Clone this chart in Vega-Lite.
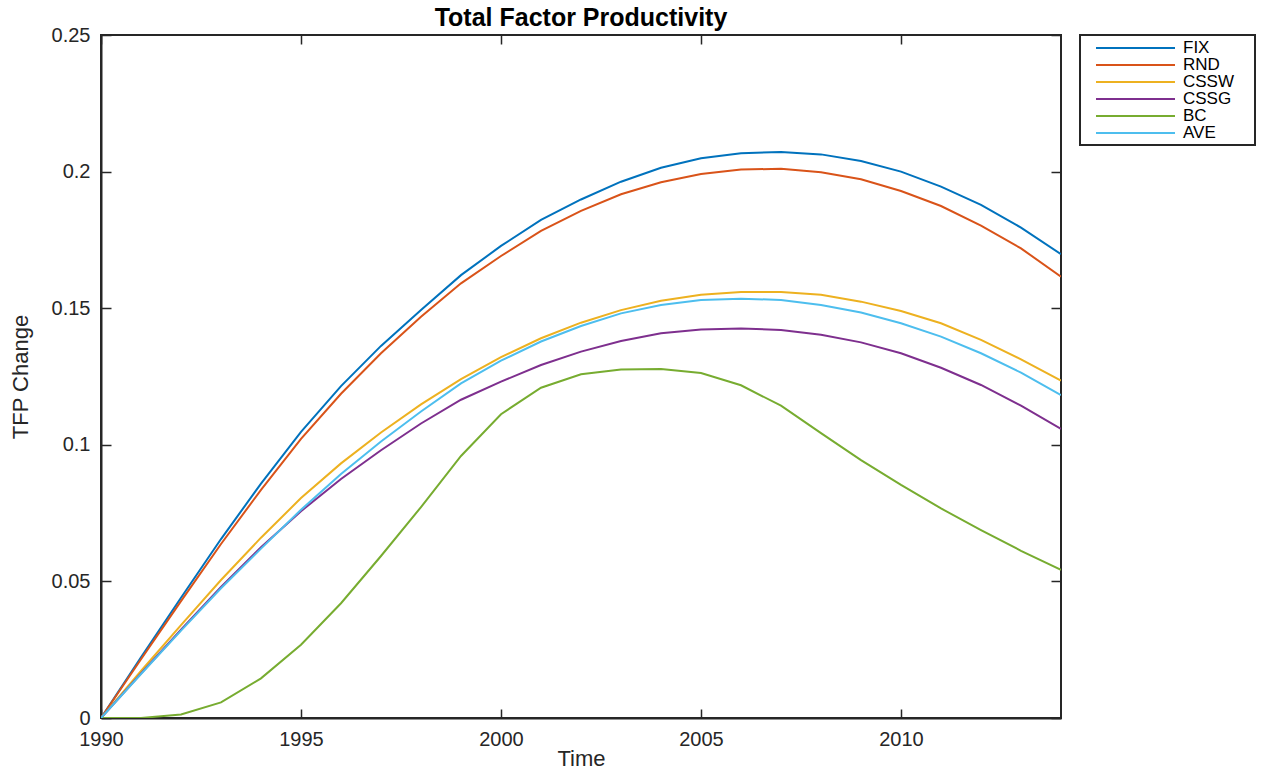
{
  "$schema": "https://vega.github.io/schema/vega-lite/v6.json",
  "width": 960,
  "height": 683,
  "autosize": {"type": "none"},
  "padding": {"left": 101, "top": 35, "right": 205, "bottom": 54},
  "background": "white",
  "title": {"text": "Total Factor Productivity", "fontSize": 25, "fontWeight": "bold", "font": "Liberation Sans", "color": "black", "offset": -6, "anchor": "middle"},
  "datasets": {
    "tfp": [
      {"year": 1990, "series": "FIX", "tfp": 0}, {"year": 1991, "series": "FIX", "tfp": 0.0222}, {"year": 1992, "series": "FIX", "tfp": 0.0440}, {"year": 1993, "series": "FIX", "tfp": 0.0655}, {"year": 1994, "series": "FIX", "tfp": 0.0858}, {"year": 1995, "series": "FIX", "tfp": 0.1047}, {"year": 1996, "series": "FIX", "tfp": 0.1215}, {"year": 1997, "series": "FIX", "tfp": 0.1362}, {"year": 1998, "series": "FIX", "tfp": 0.1493}, {"year": 1999, "series": "FIX", "tfp": 0.1621}, {"year": 2000, "series": "FIX", "tfp": 0.1728}, {"year": 2001, "series": "FIX", "tfp": 0.1823}, {"year": 2002, "series": "FIX", "tfp": 0.1898}, {"year": 2003, "series": "FIX", "tfp": 0.1963}, {"year": 2004, "series": "FIX", "tfp": 0.2014}, {"year": 2005, "series": "FIX", "tfp": 0.2049}, {"year": 2006, "series": "FIX", "tfp": 0.2067}, {"year": 2007, "series": "FIX", "tfp": 0.2072}, {"year": 2008, "series": "FIX", "tfp": 0.2063}, {"year": 2009, "series": "FIX", "tfp": 0.2039}, {"year": 2010, "series": "FIX", "tfp": 0.2000}, {"year": 2011, "series": "FIX", "tfp": 0.1945}, {"year": 2012, "series": "FIX", "tfp": 0.1878}, {"year": 2013, "series": "FIX", "tfp": 0.1795}, {"year": 2014, "series": "FIX", "tfp": 0.1698},
      {"year": 1990, "series": "RND", "tfp": 0}, {"year": 1991, "series": "RND", "tfp": 0.0215}, {"year": 1992, "series": "RND", "tfp": 0.0428}, {"year": 1993, "series": "RND", "tfp": 0.0637}, {"year": 1994, "series": "RND", "tfp": 0.0835}, {"year": 1995, "series": "RND", "tfp": 0.1022}, {"year": 1996, "series": "RND", "tfp": 0.1187}, {"year": 1997, "series": "RND", "tfp": 0.1335}, {"year": 1998, "series": "RND", "tfp": 0.1469}, {"year": 1999, "series": "RND", "tfp": 0.1591}, {"year": 2000, "series": "RND", "tfp": 0.1691}, {"year": 2001, "series": "RND", "tfp": 0.1783}, {"year": 2002, "series": "RND", "tfp": 0.1856}, {"year": 2003, "series": "RND", "tfp": 0.1917}, {"year": 2004, "series": "RND", "tfp": 0.1961}, {"year": 2005, "series": "RND", "tfp": 0.1991}, {"year": 2006, "series": "RND", "tfp": 0.2008}, {"year": 2007, "series": "RND", "tfp": 0.2010}, {"year": 2008, "series": "RND", "tfp": 0.1998}, {"year": 2009, "series": "RND", "tfp": 0.1972}, {"year": 2010, "series": "RND", "tfp": 0.1929}, {"year": 2011, "series": "RND", "tfp": 0.1874}, {"year": 2012, "series": "RND", "tfp": 0.1802}, {"year": 2013, "series": "RND", "tfp": 0.1719}, {"year": 2014, "series": "RND", "tfp": 0.1615},
      {"year": 1990, "series": "CSSW", "tfp": 0}, {"year": 1991, "series": "CSSW", "tfp": 0.0172}, {"year": 1992, "series": "CSSW", "tfp": 0.0340}, {"year": 1993, "series": "CSSW", "tfp": 0.0505}, {"year": 1994, "series": "CSSW", "tfp": 0.0660}, {"year": 1995, "series": "CSSW", "tfp": 0.0805}, {"year": 1996, "series": "CSSW", "tfp": 0.0932}, {"year": 1997, "series": "CSSW", "tfp": 0.1045}, {"year": 1998, "series": "CSSW", "tfp": 0.1148}, {"year": 1999, "series": "CSSW", "tfp": 0.1240}, {"year": 2000, "series": "CSSW", "tfp": 0.1321}, {"year": 2001, "series": "CSSW", "tfp": 0.1390}, {"year": 2002, "series": "CSSW", "tfp": 0.1447}, {"year": 2003, "series": "CSSW", "tfp": 0.1493}, {"year": 2004, "series": "CSSW", "tfp": 0.1527}, {"year": 2005, "series": "CSSW", "tfp": 0.1549}, {"year": 2006, "series": "CSSW", "tfp": 0.1559}, {"year": 2007, "series": "CSSW", "tfp": 0.1559}, {"year": 2008, "series": "CSSW", "tfp": 0.1549}, {"year": 2009, "series": "CSSW", "tfp": 0.1524}, {"year": 2010, "series": "CSSW", "tfp": 0.1490}, {"year": 2011, "series": "CSSW", "tfp": 0.1445}, {"year": 2012, "series": "CSSW", "tfp": 0.1384}, {"year": 2013, "series": "CSSW", "tfp": 0.1313}, {"year": 2014, "series": "CSSW", "tfp": 0.1235},
      {"year": 1990, "series": "CSSG", "tfp": 0}, {"year": 1991, "series": "CSSG", "tfp": 0.0163}, {"year": 1992, "series": "CSSG", "tfp": 0.0323}, {"year": 1993, "series": "CSSG", "tfp": 0.0480}, {"year": 1994, "series": "CSSG", "tfp": 0.0625}, {"year": 1995, "series": "CSSG", "tfp": 0.0757}, {"year": 1996, "series": "CSSG", "tfp": 0.0875}, {"year": 1997, "series": "CSSG", "tfp": 0.0980}, {"year": 1998, "series": "CSSG", "tfp": 0.1078}, {"year": 1999, "series": "CSSG", "tfp": 0.1165}, {"year": 2000, "series": "CSSG", "tfp": 0.1231}, {"year": 2001, "series": "CSSG", "tfp": 0.1292}, {"year": 2002, "series": "CSSG", "tfp": 0.1341}, {"year": 2003, "series": "CSSG", "tfp": 0.1380}, {"year": 2004, "series": "CSSG", "tfp": 0.1408}, {"year": 2005, "series": "CSSG", "tfp": 0.1422}, {"year": 2006, "series": "CSSG", "tfp": 0.1426}, {"year": 2007, "series": "CSSG", "tfp": 0.1420}, {"year": 2008, "series": "CSSG", "tfp": 0.1403}, {"year": 2009, "series": "CSSG", "tfp": 0.1375}, {"year": 2010, "series": "CSSG", "tfp": 0.1335}, {"year": 2011, "series": "CSSG", "tfp": 0.1282}, {"year": 2012, "series": "CSSG", "tfp": 0.1219}, {"year": 2013, "series": "CSSG", "tfp": 0.1143}, {"year": 2014, "series": "CSSG", "tfp": 0.1058},
      {"year": 1990, "series": "BC", "tfp": 0}, {"year": 1991, "series": "BC", "tfp": 0}, {"year": 1992, "series": "BC", "tfp": 0.0013}, {"year": 1993, "series": "BC", "tfp": 0.0057}, {"year": 1994, "series": "BC", "tfp": 0.0145}, {"year": 1995, "series": "BC", "tfp": 0.0268}, {"year": 1996, "series": "BC", "tfp": 0.0420}, {"year": 1997, "series": "BC", "tfp": 0.0593}, {"year": 1998, "series": "BC", "tfp": 0.0772}, {"year": 1999, "series": "BC", "tfp": 0.0959}, {"year": 2000, "series": "BC", "tfp": 0.1112}, {"year": 2001, "series": "BC", "tfp": 0.1209}, {"year": 2002, "series": "BC", "tfp": 0.1258}, {"year": 2003, "series": "BC", "tfp": 0.1276}, {"year": 2004, "series": "BC", "tfp": 0.1277}, {"year": 2005, "series": "BC", "tfp": 0.1263}, {"year": 2006, "series": "BC", "tfp": 0.1218}, {"year": 2007, "series": "BC", "tfp": 0.1143}, {"year": 2008, "series": "BC", "tfp": 0.1043}, {"year": 2009, "series": "BC", "tfp": 0.0944}, {"year": 2010, "series": "BC", "tfp": 0.0853}, {"year": 2011, "series": "BC", "tfp": 0.0767}, {"year": 2012, "series": "BC", "tfp": 0.0688}, {"year": 2013, "series": "BC", "tfp": 0.0612}, {"year": 2014, "series": "BC", "tfp": 0.0542},
      {"year": 1990, "series": "AVE", "tfp": 0}, {"year": 1991, "series": "AVE", "tfp": 0.0161}, {"year": 1992, "series": "AVE", "tfp": 0.0320}, {"year": 1993, "series": "AVE", "tfp": 0.0475}, {"year": 1994, "series": "AVE", "tfp": 0.0620}, {"year": 1995, "series": "AVE", "tfp": 0.0762}, {"year": 1996, "series": "AVE", "tfp": 0.0893}, {"year": 1997, "series": "AVE", "tfp": 0.1012}, {"year": 1998, "series": "AVE", "tfp": 0.1122}, {"year": 1999, "series": "AVE", "tfp": 0.1225}, {"year": 2000, "series": "AVE", "tfp": 0.1308}, {"year": 2001, "series": "AVE", "tfp": 0.1378}, {"year": 2002, "series": "AVE", "tfp": 0.1435}, {"year": 2003, "series": "AVE", "tfp": 0.1481}, {"year": 2004, "series": "AVE", "tfp": 0.1512}, {"year": 2005, "series": "AVE", "tfp": 0.1530}, {"year": 2006, "series": "AVE", "tfp": 0.1535}, {"year": 2007, "series": "AVE", "tfp": 0.1530}, {"year": 2008, "series": "AVE", "tfp": 0.1512}, {"year": 2009, "series": "AVE", "tfp": 0.1484}, {"year": 2010, "series": "AVE", "tfp": 0.1445}, {"year": 2011, "series": "AVE", "tfp": 0.1396}, {"year": 2012, "series": "AVE", "tfp": 0.1335}, {"year": 2013, "series": "AVE", "tfp": 0.1264}, {"year": 2014, "series": "AVE", "tfp": 0.1182}
    ]
  },
  "data": {"name": "tfp"},
  "layer": [
    {
      "mark": {"type": "line", "strokeWidth": 2, "clip": true},
      "encoding": {
        "x": {"field": "year", "type": "quantitative", "scale": {"domain": [1990, 2014], "nice": false, "zero": false},
          "axis": {"orient": "bottom", "values": [1990, 1995, 2000, 2005, 2010], "format": "d", "title": "Time", "tickSize": -9, "labelPadding": 20, "titlePadding": -1, "labelFlush": false}},
        "y": {"field": "tfp", "type": "quantitative", "scale": {"domain": [0, 0.25], "nice": false},
          "axis": {"orient": "left", "values": [0, 0.05, 0.1, 0.15, 0.2, 0.25], "format": "~g", "title": "TFP Change", "tickSize": -10, "labelPadding": 21, "titlePadding": 19, "labelFlush": false}},
        "color": {"field": "series", "type": "nominal",
          "scale": {"domain": ["FIX", "RND", "CSSW", "CSSG", "BC", "AVE"], "range": ["#0072BD", "#D95319", "#EDB120", "#7E2F8E", "#77AC30", "#4DBEEE"]},
          "legend": {"orient": "none", "legendX": 979, "legendY": 0, "title": "\u00a0", "titleOrient": "right", "titlePadding": 17, "titleFontSize": 10, "symbolType": "M0.375,0H10.25", "symbolSize": 256, "symbolStrokeWidth": 2, "labelFontSize": 17, "labelFont": "Liberation Sans", "labelColor": "black", "labelOffset": 81, "padding": 4, "rowPadding": 0, "strokeColor": "#262626", "fillColor": "white",
            "encode": {"legend": {"update": {"strokeWidth": {"value": 2}}}}}
        }
      }
    },
    {
      "mark": {"type": "line", "opacity": 0},
      "encoding": {
        "x": {"field": "year", "type": "quantitative", "axis": {"orient": "top", "values": [1990, 1995, 2000, 2005, 2010], "labels": false, "title": null, "tickSize": -9, "domain": false}},
        "y": {"field": "tfp", "type": "quantitative", "axis": {"orient": "right", "values": [0, 0.05, 0.1, 0.15, 0.2, 0.25], "labels": false, "title": null, "tickSize": -10, "domain": false}},
        "detail": {"field": "series"}
      }
    }
  ],
  "resolve": {"axis": {"x": "independent", "y": "independent"}},
  "config": {
    "view": {"stroke": "#262626", "strokeWidth": 2},
    "axis": {"grid": false, "labelFont": "Liberation Sans", "titleFont": "Liberation Sans", "labelFontSize": 20, "titleFontSize": 22, "titleFontWeight": "normal", "labelColor": "#262626", "titleColor": "#262626", "domainColor": "#262626", "domainWidth": 2, "tickColor": "#262626", "tickWidth": 1.5}
  }
}
